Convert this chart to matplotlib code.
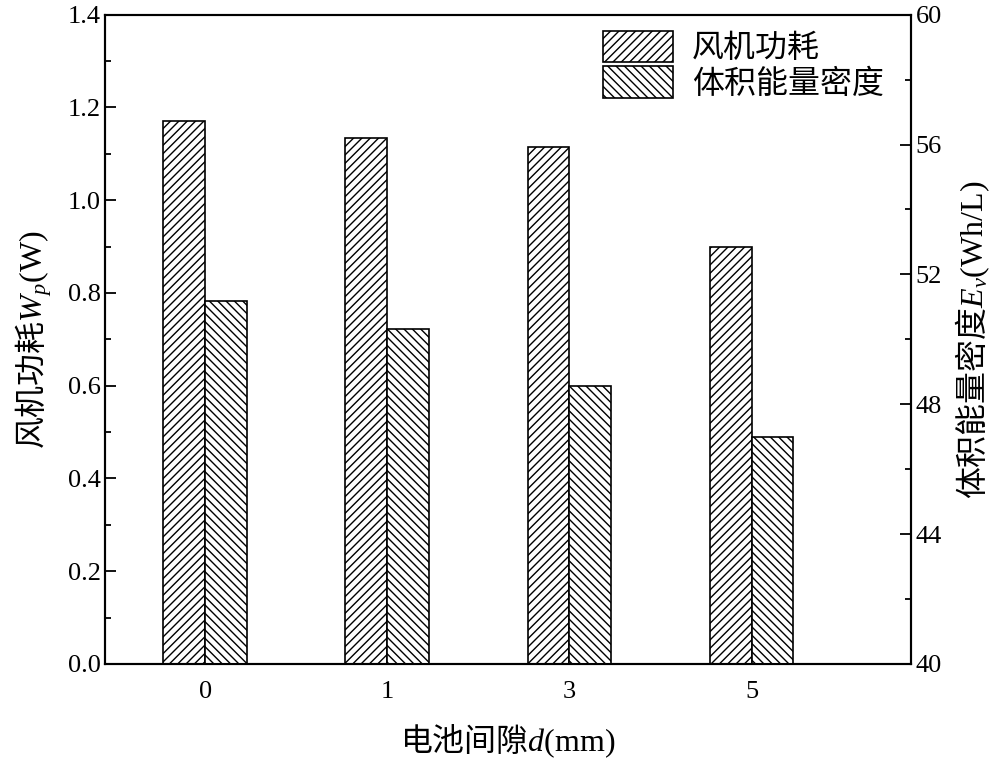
import matplotlib

matplotlib.use("Agg")
import matplotlib.pyplot as plt
import numpy as np
from matplotlib.ticker import MultipleLocator

# data
gaps = ["0", "1", "3", "5"]
fan_power = [1.17, 1.135, 1.115, 0.90]          # W_p (W), left axis
energy_density = [51.19, 50.32, 48.57, 47.0]    # E_v (Wh/L), right axis

plt.rcParams["font.family"] = ["Liberation Serif", "Noto Sans CJK SC"]
plt.rcParams["mathtext.fontset"] = "custom"
plt.rcParams["mathtext.rm"] = "Liberation Serif"
plt.rcParams["mathtext.it"] = "Liberation Serif:italic"
plt.rcParams["hatch.linewidth"] = 1.0
plt.rcParams["axes.linewidth"] = 1.5

fig = plt.figure(figsize=(10.04, 7.72), dpi=100)
ax = fig.add_axes([0.105, 0.14, 0.802, 0.841])
ax2 = ax.twinx()

x = np.arange(len(gaps))
width = 0.23
b1 = ax.bar(x - width / 2, fan_power, width, facecolor="white", edgecolor="black",
            hatch="////", linewidth=1.2)
b2 = ax2.bar(x + width / 2, energy_density, width, bottom=0, facecolor="white",
             edgecolor="black", hatch="\\\\\\\\", linewidth=1.2)

ax.set_xlim(-0.547, 3.873)
ax.set_ylim(0, 1.4)
ax2.set_ylim(40, 60)
ax.set_xticks(x)
ax.set_xticklabels(gaps)
ax.yaxis.set_major_locator(MultipleLocator(0.2))
ax.yaxis.set_minor_locator(MultipleLocator(0.1))
ax2.yaxis.set_major_locator(MultipleLocator(4))
ax2.yaxis.set_minor_locator(MultipleLocator(2))

ax.tick_params(axis="x", length=0, labelsize=19, pad=12)
ax.tick_params(axis="y", which="major", direction="in", length=8, width=1.3, labelsize=19)
ax.tick_params(axis="y", which="minor", direction="in", length=4, width=1.3)
ax2.tick_params(axis="y", which="major", direction="in", length=8, width=1.3, labelsize=19)
ax2.tick_params(axis="y", which="minor", direction="in", length=4, width=1.3)

ax.set_ylabel(r"风机功耗$W_p\mathrm{(W)}$", fontsize=23, family="Noto Sans CJK SC", labelpad=10)
ax2.set_ylabel(r"体积能量密度$E_v\mathrm{(Wh/L)}$", fontsize=23, family="Noto Sans CJK SC", labelpad=8)
ax.set_xlabel(r"电池间隙$d\mathrm{(mm)}$", fontsize=23, family="Noto Sans CJK SC", labelpad=14)

leg = ax.legend([b1, b2], ["风机功耗", "体积能量密度"], loc="upper right", frameon=False,
                prop={"family": "Noto Sans CJK SC", "size": 23}, handlelength=2.2,
                handleheight=1.15, handletextpad=0.6, labelspacing=0.05,
                borderaxespad=0.3, bbox_to_anchor=(0.995, 1.01))

fig.savefig("out.png", dpi=100)
